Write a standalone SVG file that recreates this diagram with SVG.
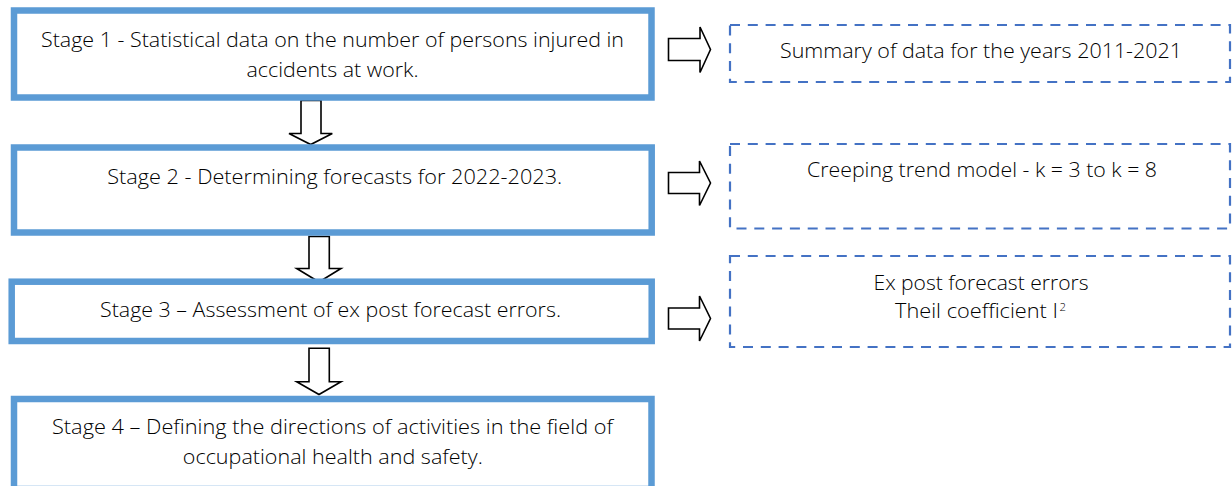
<svg xmlns="http://www.w3.org/2000/svg" width="1232" height="486" viewBox="0 0 1232 486">
<style>
.stage{fill:#fff;stroke:#5B9BD5;stroke-width:6.5}
.note{fill:#fff;stroke:#4472C4;stroke-width:2.2;stroke-dasharray:10 7.8}
.arr{fill:#fff;stroke:#000;stroke-width:1.6;stroke-linejoin:miter}
text{font-family:"Open Sans","Noto Sans",sans-serif;font-weight:300;font-size:19.5px;fill:#000}
</style>
<rect width="1232" height="486" fill="#fff"/>
<g id="connectors">
<path class="arr" d="M301,100.5 V133.5 H289 L310.7,144.5 L332.3,133.5 H321 V100.5 Z"/>
<path class="arr" d="M309,236.5 V268.5 H296.7 L319,282 L341,268.5 H329.3 V236.5 Z"/>
<path class="arr" d="M309,348.3 V381.7 H296.7 L319,394.5 L341,381.7 H329.3 V348.3 Z"/>
<path class="arr" d="M668.5,38.5 H700 V27 L710.5,49.5 L700,72.5 V60.5 H668.5 Z"/>
<path class="arr" d="M668.5,172.5 H699.5 V161 L710.5,183 L699.5,205.5 V193.5 H668.5 Z"/>
<path class="arr" d="M668.5,308 H699.5 V296 L710.5,318.5 L699.5,341 V329 H668.5 Z"/>
</g>
<g id="stage1">
<rect class="stage" x="14" y="10.5" width="637.5" height="87"/>
<text x="332.5" y="47" text-anchor="middle" textLength="583" lengthAdjust="spacingAndGlyphs">Stage 1 - Statistical data on the number of persons injured in</text>
<text x="332.5" y="76.5" text-anchor="middle" textLength="172" lengthAdjust="spacingAndGlyphs">accidents at work.</text>
</g>
<g id="stage2">
<rect class="stage" x="14" y="147.5" width="637.7" height="85"/>
<text x="334.7" y="184" text-anchor="middle" textLength="455" lengthAdjust="spacingAndGlyphs">Stage 2 - Determining forecasts for 2022-2023.</text>
</g>
<g id="stage3">
<rect class="stage" x="11.7" y="281.7" width="640" height="59.3"/>
<text x="330.5" y="316.5" text-anchor="middle" textLength="461" lengthAdjust="spacingAndGlyphs">Stage 3 – Assessment of ex post forecast errors.</text>
</g>
<g id="stage4">
<rect class="stage" x="14" y="399" width="637.5" height="90"/>
<text x="332.5" y="434" text-anchor="middle" textLength="561" lengthAdjust="spacingAndGlyphs">Stage 4 – Defining the directions of activities in the field of</text>
<text x="332.8" y="463.5" text-anchor="middle" textLength="300" lengthAdjust="spacingAndGlyphs">occupational health and safety.</text>
</g>
<g id="note1">
<rect class="note" x="730" y="25" width="500" height="57"/>
<text x="981" y="58" text-anchor="middle" textLength="402" lengthAdjust="spacingAndGlyphs">Summary of data for the years 2011-2021</text>
</g>
<g id="note2">
<rect class="note" x="730" y="144" width="500" height="84.5"/>
<text x="982" y="176.5" text-anchor="middle" textLength="350" lengthAdjust="spacingAndGlyphs">Creeping trend model - k = 3 to k = 8</text>
</g>
<g id="note3">
<rect class="note" x="730" y="256" width="500" height="91"/>
<text x="981" y="290" text-anchor="middle" textLength="215" lengthAdjust="spacingAndGlyphs">Ex post forecast errors</text>
<text x="895" y="318.3" textLength="163" lengthAdjust="spacingAndGlyphs">Theil coefficient I</text>
<text x="1059.5" y="311" style="font-size:11.5px" textLength="6.5" lengthAdjust="spacingAndGlyphs">2</text>
</g>
</svg>
